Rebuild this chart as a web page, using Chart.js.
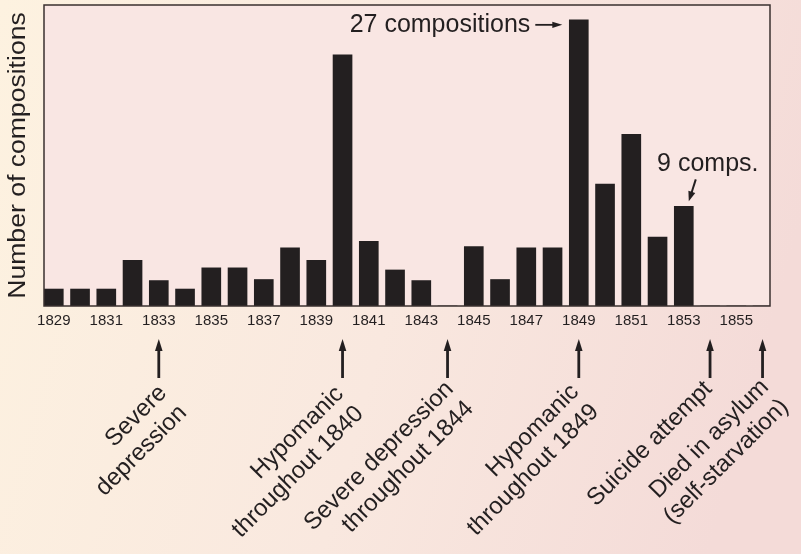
<!DOCTYPE html>
<html>
<head>
<meta charset="utf-8">
<script src="https://cdn.jsdelivr.net/npm/chart.js@4.4.1/dist/chart.umd.min.js"></script>
<style>
  html, body { margin: 0; padding: 0; background: #fbeee2; }
  canvas { display: block; }
</style>
</head>
<body>
<canvas id="comps" width="801" height="554"></canvas>
<script>
// compositions per year
const years = [1829, 1830, 1831, 1832, 1833, 1834, 1835, 1836, 1837, 1838, 1839, 1840, 1841, 1842,
               1843, 1844, 1845, 1846, 1847, 1848, 1849, 1850, 1851, 1852, 1853, 1854, 1855, 1856];
const compositions = [1.6, 1.6, 1.6, 4.3, 2.4, 1.6, 3.6, 3.6, 2.5, 5.5, 4.3, 23.7, 6.1, 3.4,
                      2.4, 0, 5.6, 2.5, 5.5, 5.5, 27, 11.5, 16.2, 6.5, 9.4, 0, 0, 0];
const tickYears = [1829, 1831, 1833, 1835, 1837, 1839, 1841, 1843, 1845, 1847, 1849, 1851, 1853, 1855];

// life events marked under the axis
const eventYears = [1833, 1840, 1844, 1849, 1854, 1856];
const eventLabels = [
    ["Severe", "depression"],
    ["Hypomanic", "throughout 1840"],
    ["Severe depression", "throughout 1844"],
    ["Hypomanic", "throughout 1849"],
    ["Suicide attempt"],
    ["Died in asylum", "(self-starvation)"]
];
// small hand nudges for the rotated labels: [dx from arrow, dy below axis]
const labelNudge = [[9, 88], [2, 89], [7, 84], [1, 87], [3, 84], [7, 82]];

const peakYear = 1849, peakText = "27 compositions";
const noteYear = 1853, noteText = "9 comps.";

const ink = "#231f20";
const font = "Liberation Sans, Arial, Helvetica, sans-serif";

function arrow(ctx, x1, y1, x2, y2, len, half, lw) {
    const a = Math.atan2(y2 - y1, x2 - x1);
    const bx = x2 - Math.cos(a) * len, by = y2 - Math.sin(a) * len;
    ctx.lineWidth = lw;
    ctx.beginPath();
    ctx.moveTo(x1, y1);
    ctx.lineTo(bx + Math.cos(a) * 1, by + Math.sin(a) * 1);
    ctx.stroke();
    ctx.beginPath();
    ctx.moveTo(x2, y2);
    ctx.lineTo(bx + Math.sin(a) * half, by - Math.cos(a) * half);
    ctx.lineTo(bx - Math.sin(a) * half, by + Math.cos(a) * half);
    ctx.closePath();
    ctx.fill();
}

const decor = {
    id: "decor",
    beforeDraw(chart) {
        const { ctx, width, height } = chart;
        const g = ctx.createLinearGradient(0, 0, width, height * 0.4);
        g.addColorStop(0, "#fdf2e0");
        g.addColorStop(0.55, "#f9e8df");
        g.addColorStop(1, "#f4dbd8");
        ctx.save();
        ctx.fillStyle = g;
        ctx.fillRect(0, 0, width, height);
        ctx.restore();
    },
    beforeDatasetsDraw(chart) {
        const { ctx, chartArea: a } = chart;
        ctx.save();
        ctx.fillStyle = "#f9e6e3";
        ctx.fillRect(a.left, a.top, a.right - a.left, a.bottom - a.top);
        ctx.restore();
    },
    afterDraw(chart) {
        const { ctx, chartArea: a } = chart;
        const xs = chart.scales.x, ys = chart.scales.y;
        ctx.save();

        // frame
        ctx.strokeStyle = "#3a302f";
        ctx.lineWidth = 1.5;
        ctx.strokeRect(a.left, a.top, a.right - a.left, a.bottom - a.top);

        ctx.strokeStyle = ink;
        ctx.fillStyle = ink;

        // y title, a little stretched like the original
        ctx.save();
        ctx.translate(25, (a.top + a.bottom) / 2);
        ctx.rotate(-Math.PI / 2);
        ctx.scale(1.155, 1);
        ctx.font = "23px " + font;
        ctx.textAlign = "center";
        ctx.textBaseline = "alphabetic";
        ctx.fillText("Number of compositions", 0, 0);
        ctx.restore();

        // event arrows + rotated labels
        eventYears.forEach((yr, i) => {
            const x = xs.getPixelForValue(yr);
            arrow(ctx, x, a.bottom + 72, x, a.bottom + 33, 12, 3.8, 2.8);
            const [dx, dy] = labelNudge[i];
            ctx.save();
            ctx.translate(x + dx, a.bottom + dy);
            ctx.rotate(-Math.PI / 4);
            ctx.font = "24px " + font;
            ctx.textAlign = "right";
            ctx.textBaseline = "alphabetic";
            eventLabels[i].forEach((line, j) => ctx.fillText(line, 0, j * 28));
            ctx.restore();
        });

        // peak note
        const px = xs.getPixelForValue(peakYear) - 9.5;
        const py = ys.getPixelForValue(27);
        ctx.font = "25px " + font;
        ctx.textAlign = "right";
        ctx.textBaseline = "alphabetic";
        ctx.fillText(peakText, px - 39, py + 12);
        arrow(ctx, px - 34, py + 5, px - 7, py + 5, 10, 3.2, 1.8);

        // 9 comps note
        const nx = xs.getPixelForValue(noteYear);
        const ny = ys.getPixelForValue(compositions[years.indexOf(noteYear)]);
        ctx.textAlign = "center";
        ctx.fillText(noteText, nx + 24, ny - 35);
        arrow(ctx, nx + 12, ny - 27, nx + 5, ny - 5, 10, 3.6, 2);

        ctx.restore();
    }
};

new Chart(document.getElementById("comps"), {
    type: "bar",
    data: {
        datasets: [{
            data: years.map((y, i) => ({ x: y, y: compositions[i] })),
            backgroundColor: ink,
            borderWidth: 0,
            barThickness: 19
        }]
    },
    options: {
        responsive: false,
        animation: false,
        devicePixelRatio: 1,
        layout: { padding: { left: 44, right: 31, top: 5, bottom: 0 } },
        plugins: { legend: { display: false }, tooltip: { enabled: false } },
        scales: {
            x: {
                type: "linear",
                min: 1828.627,
                max: 1856.284,
                offset: false,
                grid: { display: false, drawTicks: false, offset: false },
                border: { display: false },
                afterBuildTicks: (s) => { s.ticks = tickYears.map(v => ({ value: v })); },
                afterFit: (s) => { s.height = 248; },
                ticks: {
                    autoSkip: false,
                    maxRotation: 0,
                    padding: 6,
                    color: ink,
                    font: { family: font, size: 15 },
                    callback: (v) => String(v)
                }
            },
            y: {
                display: false,
                min: 0,
                max: 28.4
            }
        }
    },
    plugins: [decor]
});
</script>
</body>
</html>
